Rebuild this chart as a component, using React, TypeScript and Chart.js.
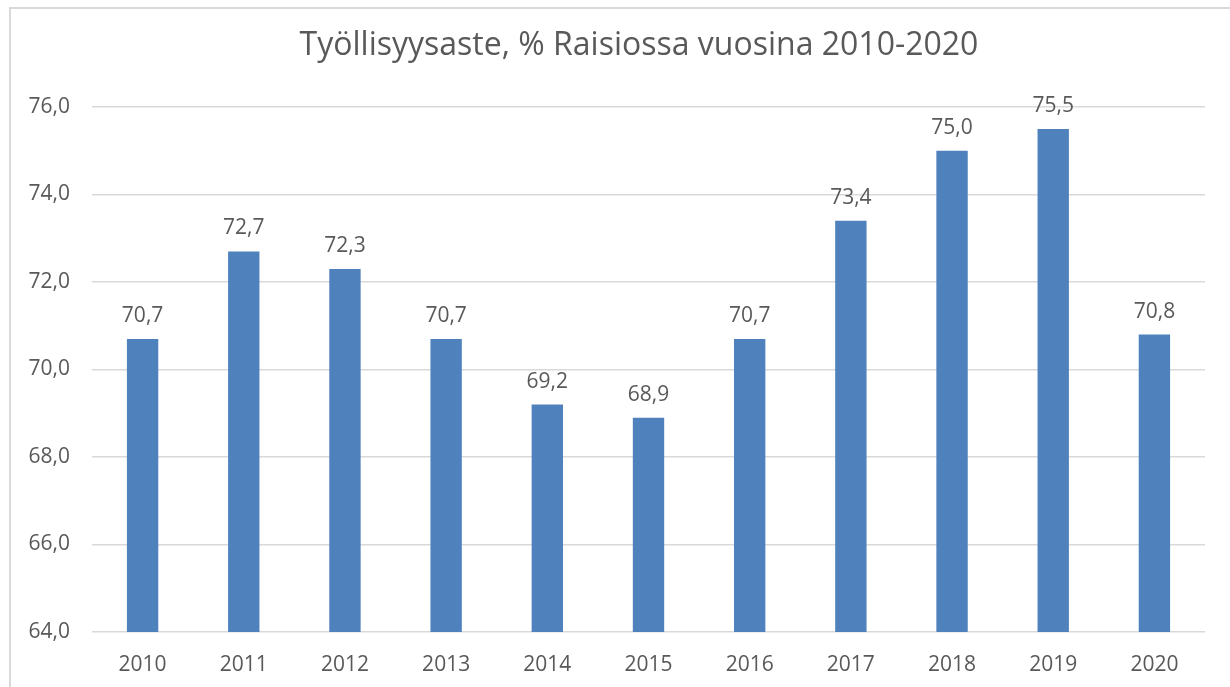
import React, { useEffect, useRef } from "react";
import { Chart, registerables } from "chart.js";

Chart.register(...registerables);

const years: string[] = ["2010", "2011", "2012", "2013", "2014", "2015", "2016", "2017", "2018", "2019", "2020"];
const employmentRate: number[] = [70.7, 72.7, 72.3, 70.7, 69.2, 68.9, 70.7, 73.4, 75.0, 75.5, 70.8];
const titleText = "Työllisyysaste, % Raisiossa vuosina 2010-2020";
const yMin = 64;
const yMax = 76;
const yStep = 2;

const fmt = (v: number) => v.toFixed(1).replace(".", ",");
const FONT = "'Open Sans', sans-serif";
const TEXT = "#595959";

const dataLabels = {
  id: "dataLabels",
  afterDatasetsDraw(chart: any) {
    const ctx = chart.ctx;
    const meta = chart.getDatasetMeta(0);
    ctx.save();
    ctx.font = `21px ${FONT}`;
    ctx.fillStyle = TEXT;
    ctx.textAlign = "center";
    ctx.textBaseline = "alphabetic";
    meta.data.forEach((bar: any, i: number) => {
      const v = chart.data.datasets[0].data[i] as number;
      ctx.fillText(fmt(v), bar.x, bar.y - 17);
    });
    ctx.restore();
  },
};

const titlePlugin = {
  id: "centerTitle",
  afterDraw(chart: any) {
    const ctx = chart.ctx;
    ctx.save();
    ctx.font = `32px ${FONT}`;
    ctx.fillStyle = TEXT;
    ctx.textAlign = "center";
    ctx.textBaseline = "middle";
    ctx.fillText(titleText, 639, 46);
    ctx.restore();
  },
};

export default function App() {
  const ref = useRef<HTMLCanvasElement | null>(null);
  useEffect(() => {
    if (!ref.current) return;
    const chart = new Chart(ref.current, {
      type: "bar",
      data: {
        labels: years,
        datasets: [
          {
            data: employmentRate,
            backgroundColor: "#4f81bd",
            categoryPercentage: 1,
            barPercentage: 0.31,
          },
        ],
      },
      options: {
        responsive: false,
        animation: false,
        layout: { padding: { left: 0, right: 25, top: 107, bottom: 0 } },
        plugins: {
          legend: { display: false },
          tooltip: { enabled: false },
          title: { display: false },
        },
        scales: {
          x: {
            grid: { display: false },
            border: { display: false },
            ticks: { color: TEXT, font: { family: FONT, size: 21 }, padding: 12, maxRotation: 0 },
            afterFit: (s: any) => {
              s.height = 55;
            },
          },
          y: {
            min: yMin,
            max: yMax,
            grid: { color: "#d9d9d9", lineWidth: 1.5, drawTicks: false },
            border: { display: false },
            ticks: {
              stepSize: yStep,
              color: TEXT,
              font: { family: FONT, size: 21 },
              padding: 22,
              callback: (v: any) => fmt(Number(v)),
            },
            afterFit: (s: any) => {
              s.width = 92;
            },
          },
        },
      },
      plugins: [dataLabels, titlePlugin],
    });
    return () => chart.destroy();
  }, []);

  return (
    <div style={{ position: "fixed", left: 0, top: 0, width: 1230, height: 687, background: "#fff", overflow: "hidden" }}>
      <div
        style={{
          position: "absolute",
          left: 9,
          top: 7,
          width: 1260,
          height: 720,
          border: "2px solid #d9d9d9",
        }}
      />
      <canvas ref={ref} width={1230} height={687} style={{ position: "absolute", left: 0, top: 0 }} />
    </div>
  );
}
